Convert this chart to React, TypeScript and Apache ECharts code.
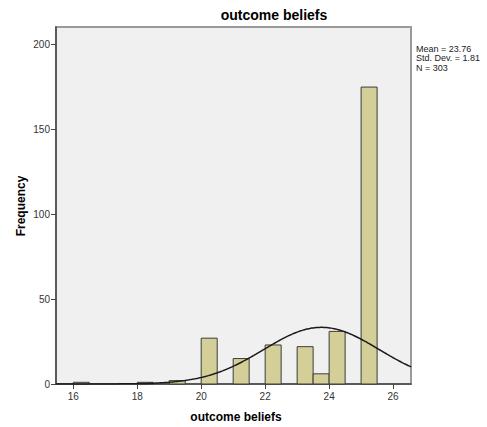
import React, { useEffect, useRef } from "react";
import * as echarts from "echarts";

// Histogram bins (start of each bin, in score units) and their frequencies
const binStarts = [16, 18, 19, 20, 21, 22, 23, 23.5, 24, 25];
const binWidth = 0.5;
const counts = [1, 1, 2, 27, 15, 23, 22, 6, 31, 175];

// Summary statistics printed beside the plot; the normal curve uses them
const mean = 23.76;
const stdDev = 1.81;
const n = 303;

// Axis tick labels
const xTicks = [16, 18, 20, 22, 24, 26];
const yTicks = [0, 50, 100, 150, 200];

const xMin = 15.46;
const xMax = 26.56;
const yMax = 210.4;

const FONT = '"Liberation Sans", Arial, sans-serif';

function normalCurve(): number[][] {
  const pts: number[][] = [];
  const steps = 240;
  const scale = (n * binWidth) / (stdDev * Math.sqrt(2 * Math.PI));
  for (let i = 0; i <= steps; i++) {
    const x = xMin + ((xMax - xMin) * i) / steps;
    const z = (x - mean) / stdDev;
    pts.push([x, scale * Math.exp(-0.5 * z * z)]);
  }
  return pts;
}

export default function App() {
  const ref = useRef<HTMLDivElement>(null);

  useEffect(() => {
    if (!ref.current) return;
    const chart = echarts.init(ref.current, undefined, { renderer: "svg" });

    const histData = binStarts.map((s, i) => [s, s + binWidth, counts[i]]);

    chart.setOption({
      animation: false,
      backgroundColor: "#ffffff",
      textStyle: { fontFamily: FONT },
      grid: {
        left: 56,
        top: 27,
        right: 76,
        bottom: 43,
        show: true,
        backgroundColor: "#f0f0f0",
        borderColor: "#9a9a9a",
        borderWidth: 2,
      },
      xAxis: {
        type: "value",
        min: xMin,
        max: xMax,
        splitLine: { show: false },
        axisLine: { show: true, onZero: false, lineStyle: { color: "#444", width: 1.5 } },
        axisTick: {
          show: true,
          inside: false,
          length: 5,
          customValues: xTicks,
          lineStyle: { color: "#444", width: 1 },
        },
        axisLabel: {
          customValues: xTicks,
          fontSize: 10,
          color: "#333",
          fontFamily: FONT,
          margin: 7,
        },
      },
      yAxis: {
        type: "value",
        min: 0,
        max: yMax,
        splitLine: { show: false },
        axisLine: { show: true, lineStyle: { color: "#444", width: 1.5 } },
        axisTick: {
          show: true,
          inside: false,
          length: 5,
          customValues: yTicks,
          lineStyle: { color: "#444", width: 1 },
        },
        axisLabel: {
          customValues: yTicks,
          fontSize: 10,
          color: "#333",
          fontFamily: FONT,
          margin: 6,
        },
      },
      graphic: [
        {
          type: "text",
          x: 274,
          y: 15,
          style: {
            text: "outcome beliefs",
            fontSize: 14,
            fontWeight: "bold",
            fontFamily: FONT,
            fill: "#000",
            textAlign: "center",
            textVerticalAlign: "middle",
          },
        },
        {
          type: "text",
          x: 236,
          y: 417,
          style: {
            text: "outcome beliefs",
            fontSize: 12,
            fontWeight: "bold",
            fontFamily: FONT,
            fill: "#000",
            textAlign: "center",
            textVerticalAlign: "middle",
          },
        },
        {
          type: "text",
          x: 21,
          y: 206,
          rotation: Math.PI / 2,
          style: {
            text: "Frequency",
            fontSize: 12,
            fontWeight: "bold",
            fontFamily: FONT,
            fill: "#000",
            textAlign: "center",
            textVerticalAlign: "middle",
          },
        },
        {
          type: "text",
          x: 416,
          y: 44,
          style: {
            text: `Mean = ${mean}\nStd. Dev. = ${stdDev}\nN = ${n}`,
            fontSize: 9,
            lineHeight: 9.5,
            fontFamily: FONT,
            fill: "#222",
            textAlign: "left",
            textVerticalAlign: "top",
          },
        },
      ],
      series: [
        {
          type: "custom",
          data: histData,
          encode: { x: [0, 1], y: 2 },
          renderItem: (_params: any, api: any) => {
            const start = api.value(0);
            const end = api.value(1);
            const count = api.value(2);
            const topLeft = api.coord([start, count]);
            const bottomRight = api.coord([end, 0]);
            return {
              type: "rect",
              shape: {
                x: topLeft[0],
                y: topLeft[1],
                width: bottomRight[0] - topLeft[0],
                height: bottomRight[1] - topLeft[1],
              },
              style: { fill: "#d4cf98", stroke: "#3c3c3c", lineWidth: 1 },
            };
          },
          z: 2,
        },
        {
          type: "line",
          data: normalCurve(),
          showSymbol: false,
          smooth: false,
          lineStyle: { color: "#1a1a1a", width: 1.5 },
          z: 3,
        },
      ],
    });

    return () => chart.dispose();
  }, []);

  return (
    <div
      ref={ref}
      style={{ position: "fixed", left: 0, top: 0, width: 487, height: 427 }}
    />
  );
}
